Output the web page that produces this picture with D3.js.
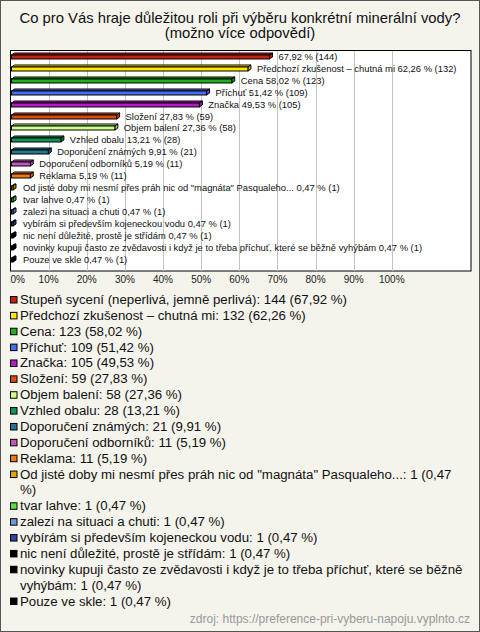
<!DOCTYPE html>
<html><head><meta charset="utf-8">
<script src="https://cdn.jsdelivr.net/npm/d3@7"></script>
<style>html,body{margin:0;padding:0;background:#f4f3ec;} svg{display:block;}</style>
</head><body><svg id="c" width="480" height="632"></svg>
<script>
const titleLines = ["Co pro Vás hraje důležitou roli při výběru konkrétní minerální vody?", "(možno více odpovědí)"];
const categories = [
  "Stupeň sycení (neperlivá, jemně perlivá)",
  "Předchozí zkušenost – chutná mi",
  "Cena",
  "Příchuť",
  "Značka",
  "Složení",
  "Objem balení",
  "Vzhled obalu",
  "Doporučení známých",
  "Doporučení odborníků",
  "Reklama",
  "Od jisté doby mi nesmí přes práh nic od \"magnáta\" Pasqualeho...",
  "tvar lahve",
  "zalezi na situaci a chuti",
  "vybírám si především kojeneckou vodu",
  "nic není důležité, prostě je střídám",
  "novinky kupuji často ze zvědavosti i když je to třeba příchuť, které se běžně vyhýbám",
  "Pouze ve skle"
];
const counts = [144, 132, 123, 109, 105, 59, 58, 28, 21, 11, 11, 1, 1, 1, 1, 1, 1, 1];
const percents = [67.92, 62.26, 58.02, 51.42, 49.53, 27.83, 27.36, 13.21, 9.91, 5.19, 5.19, 0.47, 0.47, 0.47, 0.47, 0.47, 0.47, 0.47];
const colors = ["#c42010", "#ffe800", "#20b020", "#4a6cf0", "#b818c8", "#e04a10", "#ccff88", "#10955a", "#23788e", "#c058c0", "#ee7a10", "#dca800", "#58e040", "#6c98e0", "#2848a8", "#000000", "#000000", "#000000"];
const hideNameOnBar = [0];
const ticks = [0, 10, 20, 30, 40, 50, 60, 70, 80, 90, 100];
const sourceText = "zdroj: https://preference-pri-vyberu-napoju.vyplnto.cz";

const fmt = v => v.toFixed(2).replace(".", ",");
const FONT = "'Liberation Sans', Arial, sans-serif";

const svg = d3.select("#c");
svg.append("rect").attr("x", 0.5).attr("y", 0.5).attr("width", 479).attr("height", 631)
  .attr("fill", "#f4f3ec").attr("stroke", "#555");

svg.selectAll("text.title").data(titleLines).join("text").attr("class", "title")
  .attr("x", 240).attr("y", (d, i) => 23 + i * 15)
  .attr("text-anchor", "middle").attr("font-family", FONT).attr("font-size", 14.8).attr("fill", "#111")
  .text(d => d);

// plot frame
svg.append("rect").attr("x", 10.5).attr("y", 50.5).attr("width", 460.5).attr("height", 220.5)
  .attr("fill", "#fff").attr("stroke", "#000");

const x = d3.scaleLinear().domain([0, 100]).range([10.5, 391.8]);
const y = d3.scaleBand().domain(categories).range([50, 264.5]);

svg.append("g").selectAll("line").data(ticks.filter(t => t > 0)).join("line")
  .attr("x1", d => Math.round(x(d)) + 0.5).attr("x2", d => Math.round(x(d)) + 0.5)
  .attr("y1", 51).attr("y2", 271).attr("stroke", "#c4c4c4");

const dx = 3, dy = 2;
const bars = svg.append("g").selectAll("g").data(categories).join("g");
bars.each(function (c, i) {
  const g = d3.select(this);
  const cy = Math.round(y(c) + y.bandwidth() / 2);
  const x0 = 11.5;
  const x1 = Math.max(x(percents[i]), x0 + 1.5);
  const top = cy - 1, bot = cy + 3;
  g.append("polygon")
    .attr("points", [[x0, top], [x0 + dx, top - dy], [x1 + dx, top - dy], [x1, top]].join(" "))
    .attr("fill", colors[i]).attr("stroke", "#000").attr("stroke-width", 1);
  g.append("polygon")
    .attr("points", [[x1, top], [x1 + dx, top - dy], [x1 + dx, bot - dy], [x1, bot]].join(" "))
    .attr("fill", d3.color(colors[i]).darker(0.6)).attr("stroke", "#000").attr("stroke-width", 1);
  g.append("rect").attr("x", x0).attr("y", top).attr("width", x1 - x0).attr("height", bot - top)
    .attr("fill", colors[i]).attr("stroke", "#000").attr("stroke-width", 1);
  const name = hideNameOnBar.includes(i) ? "" : c + " ";
  g.append("text").attr("x", Math.max(x1 + dx + 6, 23)).attr("y", cy + 3.5)
    .attr("font-family", FONT).attr("font-size", 9.4).attr("fill", "#111")
    .text(name + fmt(percents[i]) + " % (" + counts[i] + ")");
});

svg.append("g").selectAll("text").data(ticks).join("text")
  .attr("x", d => d === 0 ? x(0) : x(d))
  .attr("y", 283)
  .attr("text-anchor", d => d === 0 ? "start" : "middle")
  .attr("font-family", FONT).attr("font-size", 10).attr("fill", "#222")
  .text(d => d + "%");

// legend
const legend = svg.append("g");
const lineH = 15.87;
let line = 0;
const maxW = 443;
categories.forEach((c, i) => {
  const baseY = 304 + line * lineH;
  legend.append("rect").attr("x", 10.5).attr("y", baseY - 7.5).attr("width", 6.5).attr("height", 6.5)
    .attr("fill", colors[i]).attr("stroke", "#000");
  const t = legend.append("text").attr("font-family", FONT).attr("font-size", 13.25).attr("fill", "#111");
  const words = (c + ": " + counts[i] + " (" + fmt(percents[i]) + " %)").split(" ");
  let cur = [];
  let ts = t.append("tspan").attr("x", 20).attr("y", baseY);
  words.forEach(w => {
    cur.push(w);
    ts.text(cur.join(" "));
    if (ts.node().getComputedTextLength() > maxW && cur.length > 1) {
      cur.pop();
      ts.text(cur.join(" "));
      cur = [w];
      line += 1;
      ts = t.append("tspan").attr("x", 20).attr("y", 304 + line * lineH).text(w);
    }
  });
  line += 1;
});

svg.append("text").attr("x", 470).attr("y", 623).attr("text-anchor", "end")
  .attr("font-family", FONT).attr("font-size", 12).attr("fill", "#999").text(sourceText);
</script></body></html>
